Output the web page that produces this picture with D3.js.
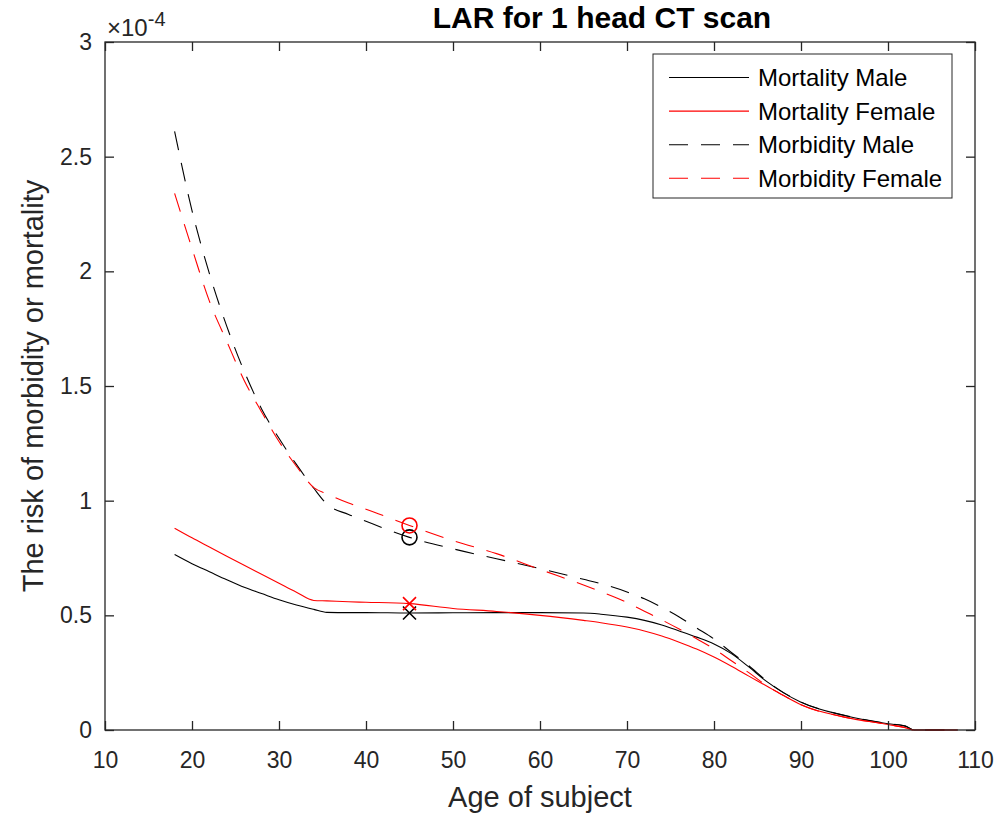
<!DOCTYPE html>
<html>
<head>
<meta charset="utf-8">
<script src="https://cdn.jsdelivr.net/npm/d3@7"></script>
<style>
  body { margin: 0; background: #fff; }
  svg { display: block; font-family: Arial, "Liberation Sans", Helvetica, sans-serif; }
</style>
</head>
<body>
<svg id="chart" width="998" height="815"></svg>
<script>
//
// Data (values in units of 1e-4)
//
var ages = [18, 20, 22, 24, 26, 28, 30, 32, 34, 35.5, 38, 40, 45, 50, 55, 60, 65, 67, 70, 72, 74, 76, 78, 80, 82, 84, 86, 88, 90, 95, 100, 102, 103, 108]

var mortalityMale = [0.765, 0.725, 0.69, 0.655, 0.622, 0.595, 0.568, 0.545, 0.526, 0.513, 0.512, 0.512, 0.51, 0.511, 0.512, 0.512, 0.51, 0.505, 0.492, 0.478, 0.458, 0.432, 0.405, 0.375, 0.333, 0.275, 0.213, 0.162, 0.121, 0.063, 0.027, 0.017, 0, 0]
var mortalityFemale = [0.88, 0.838, 0.798, 0.758, 0.718, 0.679, 0.64, 0.601, 0.565, 0.563, 0.559, 0.557, 0.551, 0.53, 0.517, 0.5, 0.478, 0.468, 0.449, 0.432, 0.41, 0.383, 0.353, 0.318, 0.278, 0.235, 0.193, 0.15, 0.11, 0.056, 0.024, 0.01, 0, 0]
var morbidityMale = [2.61, 2.265, 1.99, 1.76, 1.564, 1.4, 1.272, 1.158, 1.054, 0.985, 0.94, 0.91, 0.84, 0.79, 0.747, 0.704, 0.657, 0.638, 0.602, 0.572, 0.535, 0.493, 0.445, 0.397, 0.338, 0.28, 0.216, 0.163, 0.122, 0.064, 0.028, 0.017, 0, 0]
var morbidityFemale = [2.34, 2.1, 1.87, 1.694, 1.524, 1.387, 1.258, 1.15, 1.057, 1.03, 0.99, 0.963, 0.892, 0.826, 0.769, 0.7, 0.632, 0.603, 0.556, 0.518, 0.48, 0.44, 0.398, 0.354, 0.302, 0.25, 0.195, 0.15, 0.11, 0.056, 0.024, 0.01, 0, 0]

var seriesNames = ['Mortality Male', 'Mortality Female', 'Morbidity Male', 'Morbidity Female']
var markerAge = 45

var xTicks = [10, 20, 30, 40, 50, 60, 70, 80, 90, 100, 110]
var yTicks = [0, 0.5, 1, 1.5, 2, 2.5, 3]

//
// Layout
//
var plotLeft = 105, plotRight = 975, plotTop = 42, plotBottom = 730
var axisColor = '#262626'
var tickLen = 9

var svg = d3.select('#chart')
var x = d3.scaleLinear().domain([10, 110]).range([plotLeft, plotRight])
var y = d3.scaleLinear().domain([0, 3]).range([plotBottom, plotTop])

var series = [
  { name: seriesNames[0], values: mortalityMale, color: '#000', dash: null },
  { name: seriesNames[1], values: mortalityFemale, color: '#ff0000', dash: null },
  { name: seriesNames[2], values: morbidityMale, color: '#000', dash: '19,13' },
  { name: seriesNames[3], values: morbidityFemale, color: '#ff0000', dash: '19,13' }
]

var line = d3.line()
  .x(function(d) { return x(d[0]) })
  .y(function(d) { return y(d[1]) })
  .curve(d3.curveMonotoneX)

// data lines
series.forEach(function(s) {
  svg.append('path')
    .datum(ages.map(function(a, i) { return [a, s.values[i]] }))
    .attr('d', line)
    .attr('fill', 'none')
    .attr('stroke', s.color)
    .attr('stroke-width', 1.1)
    .attr('stroke-dasharray', s.dash)
})

// markers at age 45
var mi = ages.indexOf(markerAge)
;[morbidityMale, morbidityFemale].forEach(function(vals, k) {
  svg.append('circle')
    .attr('cx', x(markerAge)).attr('cy', y(vals[mi])).attr('r', 7.5)
    .attr('fill', 'none').attr('stroke', k ? '#ff0000' : '#000').attr('stroke-width', 1.6)
})
;[mortalityMale, mortalityFemale].forEach(function(vals, k) {
  var cx = x(markerAge), cy = y(vals[mi]), h = 6.5
  svg.append('path')
    .attr('d', 'M' + (cx - h) + ',' + (cy - h) + 'L' + (cx + h) + ',' + (cy + h) +
               'M' + (cx - h) + ',' + (cy + h) + 'L' + (cx + h) + ',' + (cy - h))
    .attr('fill', 'none').attr('stroke', k ? '#ff0000' : '#000').attr('stroke-width', 1.6)
})

// box + ticks
var axes = svg.append('g')
axes.append('rect')
  .attr('x', plotLeft).attr('y', plotTop).attr('width', plotRight - plotLeft).attr('height', plotBottom - plotTop)
  .attr('fill', 'none').attr('stroke', axisColor).attr('stroke-width', 1.3)

axes.append('g').attr('transform', 'translate(0,' + plotBottom + ')')
  .call(d3.axisBottom(x).tickValues(xTicks).tickSizeInner(-tickLen).tickSizeOuter(0).tickPadding(22))
axes.append('g').attr('transform', 'translate(0,' + plotTop + ')')
  .call(d3.axisTop(x).tickValues(xTicks).tickSizeInner(-tickLen).tickSizeOuter(0).tickFormat(''))
axes.append('g').attr('transform', 'translate(' + plotLeft + ',0)')
  .call(d3.axisLeft(y).tickValues(yTicks).tickSizeInner(-tickLen).tickSizeOuter(0).tickPadding(13).tickFormat(d3.format('')))
axes.append('g').attr('transform', 'translate(' + plotRight + ',0)')
  .call(d3.axisRight(y).tickValues(yTicks).tickSizeInner(-tickLen).tickSizeOuter(0).tickFormat(''))

axes.selectAll('.domain').remove()
axes.selectAll('.tick line').attr('stroke', axisColor).attr('stroke-width', 1.3)
axes.selectAll('.tick text')
  .attr('fill', axisColor)
  .style('font-size', '23px')
  .style('font-family', 'Arial, "Liberation Sans", sans-serif')

// exponent label
var expo = svg.append('text')
  .attr('x', plotLeft + 2).attr('y', 36)
  .attr('fill', axisColor)
  .style('font-size', '24px')
expo.append('tspan').text('\u00d710')
expo.append('tspan').attr('dy', -10).style('font-size', '20px').text('-4')

// title
svg.append('text')
  .attr('x', 602).attr('y', 28)
  .attr('text-anchor', 'middle')
  .attr('fill', '#000')
  .style('font-size', '30px').style('font-weight', 'bold')
  .text('LAR for 1 head CT scan')

// axis labels
svg.append('text')
  .attr('x', (plotLeft + plotRight) / 2).attr('y', 807)
  .attr('text-anchor', 'middle')
  .attr('fill', axisColor)
  .style('font-size', '29px')
  .text('Age of subject')

svg.append('text')
  .attr('transform', 'translate(43,' + ((plotTop + plotBottom) / 2) + ') rotate(-90)')
  .attr('text-anchor', 'middle')
  .attr('fill', axisColor)
  .style('font-size', '29px')
  .text('The risk of morbidity or mortality')

// legend
var lg = svg.append('g')
lg.append('rect')
  .attr('x', 653).attr('y', 54).attr('width', 299).attr('height', 144)
  .attr('fill', '#fff').attr('stroke', axisColor).attr('stroke-width', 1)
series.forEach(function(s, i) {
  var ly = 77.5 + i * 33.6
  lg.append('line')
    .attr('x1', 669).attr('x2', 749).attr('y1', ly).attr('y2', ly)
    .attr('stroke', s.color).attr('stroke-width', 1.1)
    .attr('stroke-dasharray', s.dash)
  lg.append('text')
    .attr('x', 758).attr('y', ly).attr('dy', '0.35em')
    .attr('fill', '#000')
    .style('font-size', '24px')
    .text(s.name)
})
</script>
</body>
</html>
